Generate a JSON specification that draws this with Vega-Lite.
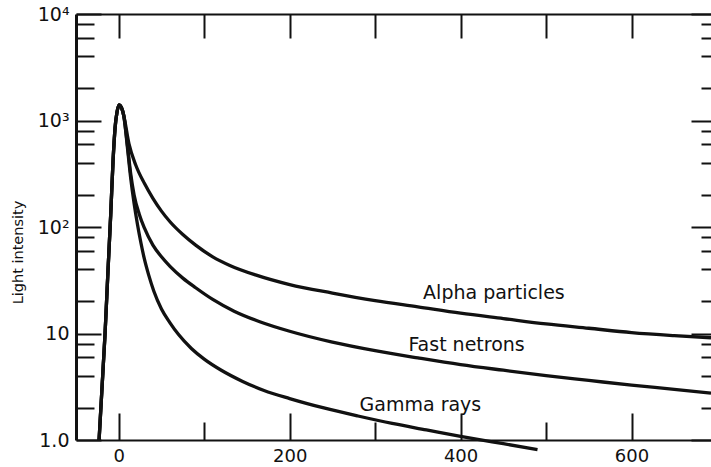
{
  "$schema": "https://vega.github.io/schema/vega-lite/v6.json",
  "autosize": {"type": "none"},
  "padding": {"left": 76, "top": 14, "right": 0, "bottom": 27},
  "width": 635,
  "height": 426,
  "background": "white",
  "config": {
    "view": {"stroke": null},
    "axis": {
      "domainColor": "#111",
      "tickColor": "#111",
      "labelColor": "#111",
      "titleColor": "#111",
      "labelFont": "DejaVu Sans",
      "labelFontSize": 19,
      "titleFont": "DejaVu Sans",
      "titleFontSize": 14.5,
      "titleFontWeight": "normal",
      "grid": false,
      "tickWidth": 2,
      "domainWidth": 2
    }
  },
  "data": {
    "values": [
      {"series": "Alpha particles", "t": -23, "v": 1},
      {"series": "Alpha particles", "t": -16, "v": 10},
      {"series": "Alpha particles", "t": -12.5, "v": 40},
      {"series": "Alpha particles", "t": -9.4, "v": 130},
      {"series": "Alpha particles", "t": -6.7, "v": 410},
      {"series": "Alpha particles", "t": -4.3, "v": 850},
      {"series": "Alpha particles", "t": -2, "v": 1200},
      {"series": "Alpha particles", "t": 0.4, "v": 1400},
      {"series": "Alpha particles", "t": 3, "v": 1330},
      {"series": "Alpha particles", "t": 6, "v": 1100},
      {"series": "Alpha particles", "t": 12, "v": 603},
      {"series": "Alpha particles", "t": 20, "v": 380},
      {"series": "Alpha particles", "t": 30, "v": 257},
      {"series": "Alpha particles", "t": 40, "v": 186},
      {"series": "Alpha particles", "t": 50, "v": 141},
      {"series": "Alpha particles", "t": 60, "v": 112},
      {"series": "Alpha particles", "t": 75, "v": 85},
      {"series": "Alpha particles", "t": 90, "v": 67.6},
      {"series": "Alpha particles", "t": 110, "v": 52.5},
      {"series": "Alpha particles", "t": 130, "v": 43.6},
      {"series": "Alpha particles", "t": 160, "v": 35.5},
      {"series": "Alpha particles", "t": 200, "v": 28.8},
      {"series": "Alpha particles", "t": 250, "v": 24},
      {"series": "Alpha particles", "t": 300, "v": 20.4},
      {"series": "Alpha particles", "t": 350, "v": 17.8},
      {"series": "Alpha particles", "t": 400, "v": 15.5},
      {"series": "Alpha particles", "t": 450, "v": 13.8},
      {"series": "Alpha particles", "t": 500, "v": 12.3},
      {"series": "Alpha particles", "t": 550, "v": 11.2},
      {"series": "Alpha particles", "t": 600, "v": 10.2},
      {"series": "Alpha particles", "t": 650, "v": 9.55},
      {"series": "Alpha particles", "t": 693, "v": 9.12},
      {"series": "Fast netrons", "t": -23, "v": 1},
      {"series": "Fast netrons", "t": -16, "v": 10},
      {"series": "Fast netrons", "t": -12.5, "v": 40},
      {"series": "Fast netrons", "t": -9.4, "v": 130},
      {"series": "Fast netrons", "t": -6.7, "v": 410},
      {"series": "Fast netrons", "t": -4.3, "v": 850},
      {"series": "Fast netrons", "t": -2, "v": 1200},
      {"series": "Fast netrons", "t": 0.4, "v": 1400},
      {"series": "Fast netrons", "t": 3, "v": 1330},
      {"series": "Fast netrons", "t": 6, "v": 1100},
      {"series": "Fast netrons", "t": 10, "v": 603},
      {"series": "Fast netrons", "t": 14, "v": 316},
      {"series": "Fast netrons", "t": 18, "v": 200},
      {"series": "Fast netrons", "t": 24, "v": 132},
      {"series": "Fast netrons", "t": 30, "v": 98},
      {"series": "Fast netrons", "t": 40, "v": 67.6},
      {"series": "Fast netrons", "t": 50, "v": 52.5},
      {"series": "Fast netrons", "t": 60, "v": 42.7},
      {"series": "Fast netrons", "t": 75, "v": 33.1},
      {"series": "Fast netrons", "t": 90, "v": 26.9},
      {"series": "Fast netrons", "t": 110, "v": 20.9},
      {"series": "Fast netrons", "t": 135, "v": 16.2},
      {"series": "Fast netrons", "t": 165, "v": 12.9},
      {"series": "Fast netrons", "t": 200, "v": 10.5},
      {"series": "Fast netrons", "t": 250, "v": 8.3},
      {"series": "Fast netrons", "t": 300, "v": 6.9},
      {"series": "Fast netrons", "t": 350, "v": 5.9},
      {"series": "Fast netrons", "t": 400, "v": 5.1},
      {"series": "Fast netrons", "t": 450, "v": 4.52},
      {"series": "Fast netrons", "t": 500, "v": 4.03},
      {"series": "Fast netrons", "t": 550, "v": 3.63},
      {"series": "Fast netrons", "t": 600, "v": 3.27},
      {"series": "Fast netrons", "t": 650, "v": 2.99},
      {"series": "Fast netrons", "t": 693, "v": 2.75},
      {"series": "Gamma rays", "t": -23, "v": 1},
      {"series": "Gamma rays", "t": -16, "v": 10},
      {"series": "Gamma rays", "t": -12.5, "v": 40},
      {"series": "Gamma rays", "t": -9.4, "v": 130},
      {"series": "Gamma rays", "t": -6.7, "v": 410},
      {"series": "Gamma rays", "t": -4.3, "v": 850},
      {"series": "Gamma rays", "t": -2, "v": 1200},
      {"series": "Gamma rays", "t": 0.4, "v": 1400},
      {"series": "Gamma rays", "t": 3, "v": 1330},
      {"series": "Gamma rays", "t": 6, "v": 1100},
      {"series": "Gamma rays", "t": 10, "v": 575},
      {"series": "Gamma rays", "t": 14, "v": 288},
      {"series": "Gamma rays", "t": 18, "v": 166},
      {"series": "Gamma rays", "t": 22, "v": 105},
      {"series": "Gamma rays", "t": 26, "v": 70.8},
      {"series": "Gamma rays", "t": 30, "v": 50.1},
      {"series": "Gamma rays", "t": 35, "v": 35.5},
      {"series": "Gamma rays", "t": 41, "v": 25.1},
      {"series": "Gamma rays", "t": 50, "v": 17},
      {"series": "Gamma rays", "t": 60, "v": 12.6},
      {"series": "Gamma rays", "t": 70, "v": 9.77},
      {"series": "Gamma rays", "t": 85, "v": 7.24},
      {"series": "Gamma rays", "t": 100, "v": 5.75},
      {"series": "Gamma rays", "t": 120, "v": 4.52},
      {"series": "Gamma rays", "t": 145, "v": 3.55},
      {"series": "Gamma rays", "t": 170, "v": 2.92},
      {"series": "Gamma rays", "t": 200, "v": 2.45},
      {"series": "Gamma rays", "t": 240, "v": 2.0},
      {"series": "Gamma rays", "t": 280, "v": 1.68},
      {"series": "Gamma rays", "t": 320, "v": 1.43},
      {"series": "Gamma rays", "t": 360, "v": 1.245},
      {"series": "Gamma rays", "t": 400, "v": 1.084},
      {"series": "Gamma rays", "t": 450, "v": 0.923},
      {"series": "Gamma rays", "t": 490, "v": 0.813}
    ]
  },
  "resolve": {"axis": {"x": "independent", "y": "independent"}},
  "layer": [
    {
      "mark": {"type": "line", "interpolate": "monotone", "color": "#111", "strokeWidth": 3.3, "clip": false},
      "encoding": {
        "x": {
          "field": "t", "type": "quantitative",
          "scale": {"domain": [-50, 693], "nice": false, "zero": false},
          "axis": {"orient": "bottom", "values": [0, 200, 400, 600], "tickSize": -27, "labelPadding": 34, "labelFontSize": 18, "title": null, "domainWidth": 2, "labelFlush": false}
        },
        "y": {
          "field": "v", "type": "quantitative",
          "scale": {"type": "log", "domain": [1, 10000], "nice": false},
          "axis": {
            "orient": "left", "values": [1, 10, 100, 1000, 10000], "tickSize": -25, "labelPadding": 32, "domainWidth": 3,
            "labelExpr": "datum.value == 1 ? '1.0' : datum.value == 10 ? '10' : datum.value == 100 ? '10²' : datum.value == 1000 ? '10³' : '10⁴'",
            "title": "Light intensity", "titleX": -58, "titleY": 238, "titleAlign": "center", "titleBaseline": "middle", "titleAngle": -90
          }
        },
        "detail": {"field": "series", "type": "nominal"}
      }
    },
    {
      "data": {
        "values": [
          {"label": "Alpha particles", "t": 439, "v": 24},
          {"label": "Fast netrons", "t": 407, "v": 7.8},
          {"label": "Gamma rays", "t": 353, "v": 2.13}
        ]
      },
      "mark": {"type": "text", "font": "DejaVu Sans", "fontSize": 19, "color": "#111", "align": "center", "baseline": "middle"},
      "encoding": {
        "x": {
          "field": "t", "type": "quantitative",
          "scale": {"domain": [-50, 693], "nice": false, "zero": false},
          "axis": {"orient": "bottom", "values": [100, 300, 500], "tickSize": -18, "labels": false, "domain": false, "title": null}
        },
        "y": {
          "field": "v", "type": "quantitative",
          "scale": {"type": "log", "domain": [1, 10000], "nice": false},
          "axis": {"orient": "left", "values": [2, 4, 6, 8, 20, 40, 60, 80, 200, 400, 600, 800, 2000, 4000, 6000, 8000], "tickSize": -18, "labels": false, "domain": false, "title": null}
        },
        "text": {"field": "label"}
      }
    },
    {
      "mark": {"type": "point", "opacity": 0},
      "encoding": {
        "x": {
          "field": "t", "type": "quantitative",
          "scale": {"domain": [-50, 693], "nice": false, "zero": false},
          "axis": {"orient": "top", "values": [0, 100, 200, 300, 400, 500, 600], "tickSize": -24, "labels": false, "domain": true, "domainWidth": 2, "title": null}
        },
        "y": {
          "field": "v", "type": "quantitative",
          "scale": {"type": "log", "domain": [1, 10000], "nice": false},
          "axis": {"orient": "right", "values": [1, 10, 100, 1000, 10000], "tickSize": -20, "labels": false, "domain": false, "title": null}
        }
      }
    },
    {
      "mark": {"type": "point", "opacity": 0},
      "encoding": {
        "x": {
          "field": "t", "type": "quantitative",
          "scale": {"domain": [-50, 693], "nice": false, "zero": false},
          "axis": null
        },
        "y": {
          "field": "v", "type": "quantitative",
          "scale": {"type": "log", "domain": [1, 10000], "nice": false},
          "axis": {"orient": "right", "values": [2, 4, 6, 8, 20, 40, 60, 80, 200, 400, 600, 800, 2000, 4000, 6000, 8000], "tickSize": -10, "labels": false, "domain": false, "title": null}
        }
      }
    }
  ]
}
